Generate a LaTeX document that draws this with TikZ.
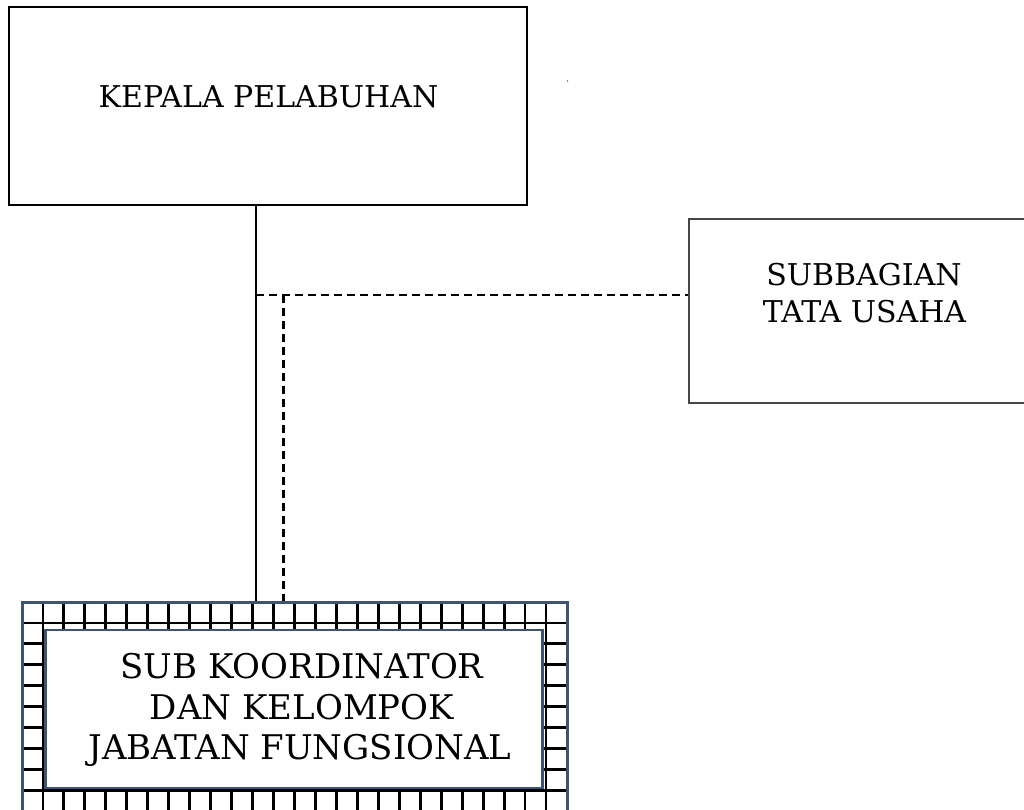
\documentclass[tikz,border=0pt]{standalone}
\usepackage{fontspec}
\setmainfont{DejaVu Serif}
\definecolor{bordblue}{RGB}{62,84,114}
\definecolor{boxgray}{RGB}{70,70,70}
\tikzset{
  kepbox/.style={rectangle, draw=black, line width=2pt, inner sep=0pt,
    minimum width=518pt, minimum height=198pt},
  subbox/.style={rectangle, draw=boxgray, line width=1.5pt, inner sep=0pt,
    minimum width=351pt, minimum height=184pt},
  outerbox/.style={rectangle, draw=bordblue, line width=3pt, inner sep=0pt,
    minimum width=545pt, minimum height=248pt},
  innerbox/.style={rectangle, draw=bordblue, fill=white, line width=2.5pt, inner sep=0pt,
    minimum width=497pt, minimum height=158pt},
  gridline/.style={draw=black, line width=2.9pt},
  lbltop/.style={anchor=base, inner sep=0pt, font=\fontsize{30}{37}\selectfont},
  lblbot/.style={anchor=base, inner sep=0pt, font=\fontsize{34}{40}\selectfont},
  solidline/.style={draw=black, line width=2.2pt},
  dashline/.style={draw=black, line width=2.2pt, dash pattern=on 8pt off 5pt},
}
\begin{document}
\begin{tikzpicture}[x=1pt, y=-1pt]
\useasboundingbox (0,0) rectangle (1024,809);
\fill[white] (0,0) rectangle (1024,809);

% top box
\node[kepbox] (kepala) at (268,106) {};
\node[lbltop] (kt) at (268.5,107) {KEPALA PELABUHAN};

% side box
\node[subbox] (subbag) at (864.5,311) {};
\node[lbltop] (st1) at (864,285) {SUBBAGIAN};
\node[lbltop] (st2) at (864.5,322) {TATA USAHA};

% bottom grid box
\node[outerbox] (koord) at (294.5,726) {};
\begin{scope}
  \clip (22,602) rectangle (567,850);
  \foreach \i in {0,...,26} {
    \draw[gridline] ({22+\i*20.96},602) -- ({22+\i*20.96},850);
  }
  \foreach \j in {1,...,11} {
    \draw[gridline] (22,{602+\j*20.96}) -- (567,{602+\j*20.96});
  }
\end{scope}
\node[innerbox] (inner) at (294,709) {};
\node[outerbox] (koordb) at (294.5,726) {};
\node[lblbot] (b1) at (302,678) {SUB KOORDINATOR};
\node[lblbot] (b2) at (302,719) {DAN KELOMPOK};
\node[lblbot] (b3) at (300,759) {JABATAN FUNGSIONAL};

% connectors
\coordinate (vs) at (256,0);
\draw[solidline] (kepala.south -| vs) -- (koord.north -| vs);
\coordinate (jn) at (256,295);
\draw[dashline] (jn) -- (jn -| subbag.west);
\coordinate (jd) at (283.5,295);
\draw[dashline] (jd) -- (jd |- koord.north);

% small speck
\fill[gray] (567.5,81) circle (0.9pt);
\end{tikzpicture}
\end{document}
